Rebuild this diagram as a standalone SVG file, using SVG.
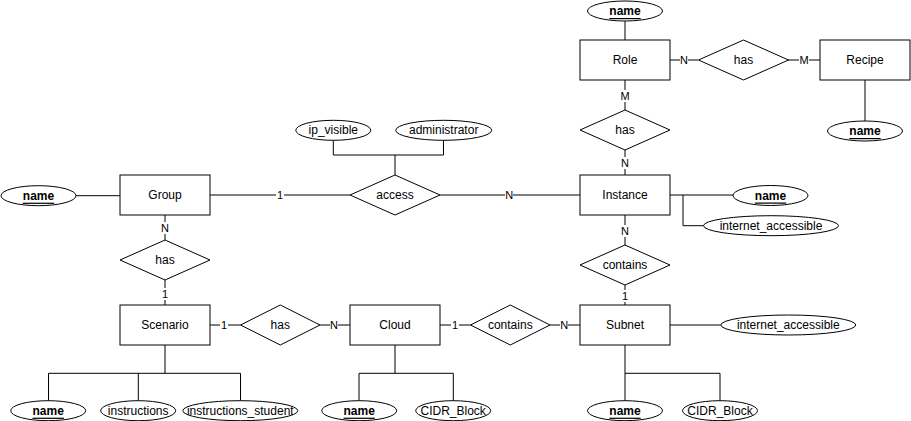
<svg xmlns="http://www.w3.org/2000/svg" width="911" height="421" viewBox="0 0 911 421">
<style>
.ent{fill:#fff;stroke:#000;stroke-width:1}
.rel{fill:#fff;stroke:#000;stroke-width:1}
.att{fill:#fff;stroke:#000;stroke-width:1}
.t{font-family:"Liberation Sans",Arial,sans-serif;font-size:12px;fill:#000;text-anchor:middle;dominant-baseline:central}
.k{font-weight:bold;text-decoration:underline}
.c{fill:none;stroke:#000;stroke-width:1}
.lb{fill:#fff}
.l{font-family:"Liberation Sans",Arial,sans-serif;font-size:11px;fill:#000;text-anchor:middle;dominant-baseline:central}
</style>
<rect width="911" height="421" fill="#fff"/>
<g id="connectors">
<path class="c" d="M625 21V40M670 60H698M788 60H820M865 80V121M625 80V110M625 150V175M670 195H733M683 195V225.7H703.5M625 215V245M625 285V305M210 195H350M440 195H580M76 195.7H120M333.3 140.3V155H443.5V140.3M395 155V175M165 215V240M165 280V305M210 325H240.5M320 325H350M440 325H470.5M550 325H580M670 325H720.8M165 345V373.3M48.5 373.3H240.5M48.5 373.3V400.7M138.3 373.3V400.7M240.5 373.3V400.7M395 345V373.3M359 373.3H453.3V400.7M359 373.3V400.7M625 345V373.3H720V400.7M625 373.3V400.7"/>
<g id="edge-labels">
<rect class="lb" x="680" y="54" width="8" height="12"/><text class="l" x="684" y="60">N</text>
<rect class="lb" x="799" y="54" width="10" height="12"/><text class="l" x="804" y="60">M</text>
<rect class="lb" x="620" y="90" width="10" height="12"/><text class="l" x="625" y="96">M</text>
<rect class="lb" x="621" y="157" width="8" height="12"/><text class="l" x="625" y="163">N</text>
<rect class="lb" x="621" y="225" width="8" height="12"/><text class="l" x="625" y="231">N</text>
<rect class="lb" x="621" y="290" width="8" height="12"/><text class="l" x="625" y="296">1</text>
<rect class="lb" x="276" y="189" width="8" height="12"/><text class="l" x="280" y="195">1</text>
<rect class="lb" x="505" y="189" width="8" height="12"/><text class="l" x="509.3" y="195">N</text>
<rect class="lb" x="161" y="222" width="8" height="12"/><text class="l" x="165" y="228">N</text>
<rect class="lb" x="161" y="288" width="8" height="12"/><text class="l" x="165" y="294">1</text>
<rect class="lb" x="220" y="319" width="8" height="12"/><text class="l" x="224" y="325">1</text>
<rect class="lb" x="330" y="319" width="8" height="12"/><text class="l" x="334" y="325">N</text>
<rect class="lb" x="451" y="319" width="8" height="12"/><text class="l" x="455" y="325">1</text>
<rect class="lb" x="560" y="319" width="8" height="12"/><text class="l" x="564.3" y="325">N</text>
</g>
</g>
<g id="role"><rect class="ent" x="580" y="40" width="90" height="40"/><text class="t" x="625" y="60">Role</text></g>
<g id="role-name"><ellipse class="att" cx="625" cy="11" rx="37.5" ry="10"/><text class="t k" x="625" y="11">name</text></g>
<g id="role-has-recipe"><polygon class="rel" points="698.5,60 743.5,40 788.5,60 743.5,80"/><text class="t" x="743.5" y="60">has</text></g>
<g id="recipe"><rect class="ent" x="820" y="40" width="90" height="40"/><text class="t" x="865" y="60">Recipe</text></g>
<g id="recipe-name"><ellipse class="att" cx="865" cy="131" rx="37.5" ry="10"/><text class="t k" x="865" y="131">name</text></g>
<g id="role-has-instance"><polygon class="rel" points="580,130 625,110 670,130 625,150"/><text class="t" x="625" y="130">has</text></g>
<g id="instance"><rect class="ent" x="580" y="175" width="90" height="40"/><text class="t" x="625" y="195">Instance</text></g>
<g id="instance-name"><ellipse class="att" cx="770.5" cy="195.5" rx="37.5" ry="10"/><text class="t k" x="770.5" y="195.5">name</text></g>
<g id="instance-internet"><ellipse class="att" cx="771" cy="225.7" rx="67.5" ry="10"/><text class="t" x="771" y="225.7">internet_accessible</text></g>
<g id="instance-contains"><polygon class="rel" points="580,265 625,245 670,265 625,285"/><text class="t" x="625" y="265">contains</text></g>
<g id="subnet"><rect class="ent" x="580" y="305" width="90" height="40"/><text class="t" x="625" y="325">Subnet</text></g>
<g id="subnet-internet"><ellipse class="att" cx="788.3" cy="325" rx="67.5" ry="10"/><text class="t" x="788.3" y="325">internet_accessible</text></g>
<g id="subnet-name"><ellipse class="att" cx="625" cy="410.7" rx="37.5" ry="10"/><text class="t k" x="625" y="410.7">name</text></g>
<g id="subnet-cidr"><ellipse class="att" cx="720" cy="410.7" rx="37.5" ry="10"/><text class="t" x="720" y="410.7">CIDR_Block</text></g>
<g id="group"><rect class="ent" x="120" y="175" width="90" height="40"/><text class="t" x="165" y="195">Group</text></g>
<g id="group-name"><ellipse class="att" cx="38.5" cy="195.7" rx="37.5" ry="10"/><text class="t k" x="38.5" y="195.7">name</text></g>
<g id="access"><polygon class="rel" points="350,195 395,175 440,195 395,215"/><text class="t" x="395" y="195">access</text></g>
<g id="ip-visible"><ellipse class="att" cx="333.3" cy="130.3" rx="37.5" ry="10"/><text class="t" x="333.3" y="130.3">ip_visible</text></g>
<g id="administrator"><ellipse class="att" cx="443.7" cy="130.3" rx="48" ry="10"/><text class="t" x="443.7" y="130.3">administrator</text></g>
<g id="group-has"><polygon class="rel" points="120,260 165,240 210,260 165,280"/><text class="t" x="165" y="260">has</text></g>
<g id="scenario"><rect class="ent" x="120" y="305" width="90" height="40"/><text class="t" x="165" y="325">Scenario</text></g>
<g id="scenario-name"><ellipse class="att" cx="48.2" cy="410.7" rx="37.5" ry="10"/><text class="t k" x="48.2" y="410.7">name</text></g>
<g id="scenario-instructions"><ellipse class="att" cx="138.2" cy="410.7" rx="37.5" ry="10"/><text class="t" x="138.2" y="410.7">instructions</text></g>
<g id="scenario-instructions-student"><ellipse class="att" cx="240.3" cy="410.7" rx="57.5" ry="10"/><text class="t" x="240.3" y="410.7">instructions_student</text></g>
<g id="scenario-has"><polygon class="rel" points="240.5,325 280.3,305 320,325 280.3,345"/><text class="t" x="280.3" y="325">has</text></g>
<g id="cloud"><rect class="ent" x="350" y="305" width="90" height="40"/><text class="t" x="395" y="325">Cloud</text></g>
<g id="cloud-name"><ellipse class="att" cx="359.2" cy="410.7" rx="37.5" ry="10"/><text class="t k" x="359.2" y="410.7">name</text></g>
<g id="cloud-cidr"><ellipse class="att" cx="453.2" cy="410.7" rx="37.5" ry="10"/><text class="t" x="453.2" y="410.7">CIDR_Block</text></g>
<g id="cloud-contains"><polygon class="rel" points="470.5,325 510.3,305 550,325 510.3,345"/><text class="t" x="510.3" y="325">contains</text></g>
</svg>
